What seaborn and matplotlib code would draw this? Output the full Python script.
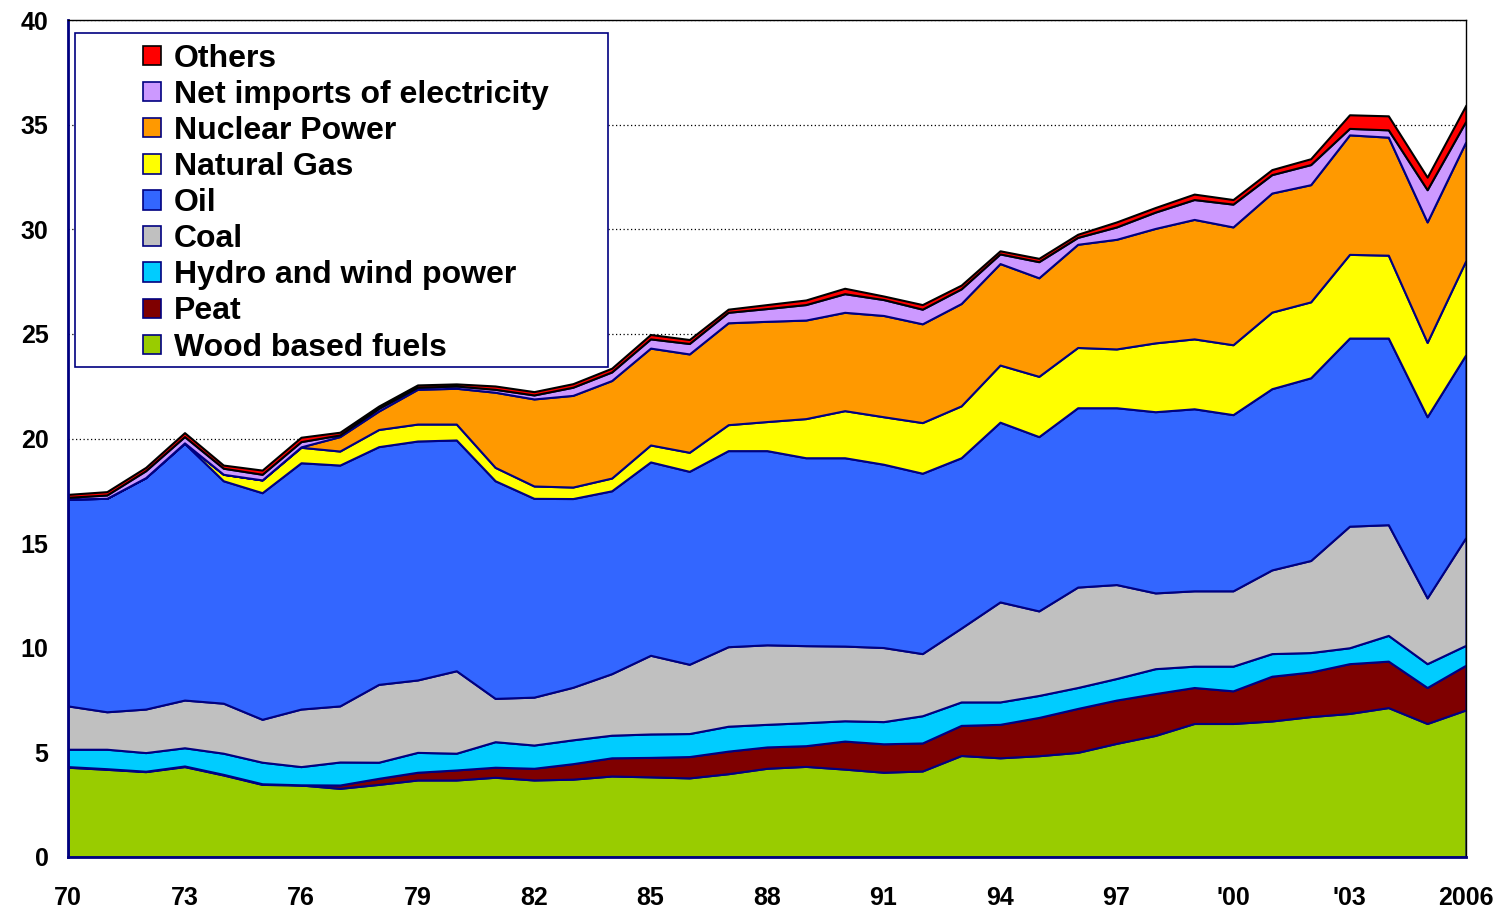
import numpy as np
import matplotlib
matplotlib.use("Agg")
import matplotlib.pyplot as plt
from matplotlib.patches import Patch, Rectangle
import seaborn as sns

years = list(range(1970, 2007))

wood = [4.29, 4.19, 4.08, 4.32, 3.92, 3.47, 3.44, 3.28, 3.47, 3.68, 3.68, 3.81, 3.68,
        3.72, 3.87, 3.83, 3.78, 3.98, 4.24, 4.33, 4.20, 4.05, 4.11, 4.85, 4.74, 4.84,
        5.00, 5.43, 5.81, 6.38, 6.38, 6.50, 6.71, 6.86, 7.14, 6.38, 7.03]
peat = [0.03, 0.03, 0.02, 0.03, 0.03, 0.03, 0.01, 0.16, 0.29, 0.37, 0.48, 0.48, 0.56,
        0.74, 0.87, 0.93, 1.02, 1.08, 1.02, 0.99, 1.34, 1.36, 1.34, 1.44, 1.60, 1.83,
        2.10, 2.07, 2.00, 1.72, 1.56, 2.14, 2.13, 2.38, 2.22, 1.72, 2.14]
hydro = [0.83, 0.93, 0.89, 0.87, 1.01, 1.03, 0.87, 1.10, 0.77, 0.95, 0.80, 1.22, 1.11,
         1.14, 1.08, 1.12, 1.10, 1.19, 1.08, 1.10, 0.97, 1.06, 1.30, 1.12, 1.07, 1.05,
         1.00, 1.03, 1.19, 1.02, 1.18, 1.08, 0.93, 0.76, 1.23, 1.14, 0.95]
coal = [2.07, 1.79, 2.08, 2.28, 2.39, 2.05, 2.75, 2.68, 3.72, 3.46, 3.94, 2.07, 2.29,
        2.51, 2.94, 3.76, 3.31, 3.80, 3.80, 3.68, 3.57, 3.54, 2.97, 3.53, 4.78, 4.04,
        4.80, 4.49, 3.62, 3.60, 3.60, 4.00, 4.40, 5.81, 5.29, 3.14, 5.16]
oil = [9.89, 10.20, 11.06, 12.27, 10.63, 10.83, 11.77, 11.51, 11.36, 11.42, 11.03, 10.40, 9.50,
       9.02, 8.74, 9.24, 9.22, 9.37, 9.28, 8.98, 9.00, 8.76, 8.62, 8.14, 8.59, 8.33,
       8.57, 8.45, 8.66, 8.70, 8.42, 8.66, 8.73, 8.99, 8.92, 8.66, 8.74]
gas = [0.00, 0.00, 0.00, 0.02, 0.31, 0.61, 0.74, 0.67, 0.82, 0.81, 0.76, 0.64, 0.59,
       0.55, 0.61, 0.81, 0.91, 1.24, 1.39, 1.87, 2.25, 2.27, 2.42, 2.48, 2.73, 2.88,
       2.88, 2.81, 3.29, 3.34, 3.34, 3.66, 3.63, 4.00, 3.96, 3.55, 4.50]
nuclear = [0.00, 0.00, 0.00, 0.00, 0.00, 0.00, 0.02, 0.69, 0.88, 1.66, 1.71, 3.59, 4.16,
           4.38, 4.66, 4.63, 4.70, 4.87, 4.79, 4.71, 4.70, 4.84, 4.72, 4.89, 4.85, 4.71,
           4.93, 5.24, 5.47, 5.71, 5.63, 5.69, 5.60, 5.71, 5.64, 5.76, 5.68]
imports = [0.08, 0.16, 0.33, 0.30, 0.29, 0.27, 0.25, 0.08, 0.13, 0.10, 0.11, 0.14, 0.19,
           0.39, 0.41, 0.44, 0.50, 0.50, 0.61, 0.74, 0.89, 0.76, 0.70, 0.70, 0.46, 0.77,
           0.33, 0.59, 0.78, 0.95, 1.09, 0.88, 0.96, 0.31, 0.35, 1.54, 0.98]
others = [0.14, 0.16, 0.16, 0.19, 0.15, 0.20, 0.21, 0.13, 0.11, 0.11, 0.10, 0.16, 0.16,
          0.17, 0.18, 0.21, 0.19, 0.15, 0.19, 0.22, 0.26, 0.17, 0.22, 0.18, 0.15, 0.16,
          0.15, 0.24, 0.22, 0.26, 0.22, 0.24, 0.28, 0.65, 0.67, 0.60, 0.76]

series_names = ["Wood based fuels", "Peat", "Hydro and wind power", "Coal", "Oil",
                "Natural Gas", "Nuclear Power", "Net imports of electricity", "Others"]
series_values = [wood, peat, hydro, coal, oil, gas, nuclear, imports, others]
series_colors = ["#99CC00", "#7F0000", "#00CCFF", "#C0C0C0", "#3366FF",
                 "#FFFF00", "#FF9900", "#CC99FF", "#FF0000"]

tick_label_years = [1970, 1973, 1976, 1979, 1982, 1985, 1988, 1991, 1994, 1997, 2000, 2003, 2006]
tick_labels = ["70", "73", "76", "79", "82", "85", "88", "91", "94", "97", "'00", "'03", "2006"]

sns.set_style("white")
plt.rcParams["font.family"] = ["Liberation Sans", "DejaVu Sans"]
plt.rcParams["font.weight"] = "bold"
plt.rcParams["text.color"] = "black"

navy = "#000080"
fig = plt.figure(figsize=(15.06, 9.10), dpi=100)
ax = fig.add_axes([68 / 1506, 1 - 857 / 910, (1466 - 68) / 1506, (857 - 20) / 910])

palette = sns.color_palette(series_colors)
polys = ax.stackplot(years, *series_values, colors=palette,
                     edgecolor=navy, linewidth=1.5, zorder=2)
polys[-1].set_edgecolor("black")
polys[-1].set_linewidth(1.5)

ax.set_xlim(1970, 2006)
ax.set_ylim(0, 40)

# gridlines
ax.set_yticks(np.arange(0, 41, 5))
ax.yaxis.grid(True, linestyle=(0, (1, 2)), color="black", linewidth=0.9, zorder=0)
ax.set_axisbelow(True)
ax.tick_params(axis="y", length=0, pad=14, labelsize=18, labelcolor="black")
ax.set_yticklabels([str(v) for v in range(0, 41, 5)], fontweight="bold")

ax.set_xticks(years)
labels = [tick_labels[tick_label_years.index(y)] if y in tick_label_years else "" for y in years]
ax.set_xticklabels(labels, fontweight="bold")
ax.tick_params(axis="x", direction="in", length=8, width=1.5, color=navy, pad=21,
               labelsize=18, labelcolor="black")

for side in ["left", "bottom"]:
    ax.spines[side].set_color(navy)
    ax.spines[side].set_linewidth(2)
for side in ["top", "right"]:
    ax.spines[side].set_color("black")
    ax.spines[side].set_linewidth(1)
    ax.spines[side].set_visible(True)

# legend (reversed order)
handles = []
for name, col in zip(series_names, series_colors):
    ec = "black" if name == "Others" else navy
    handles.append(Patch(facecolor=col, edgecolor=ec, linewidth=1.2, label=name))
handles = handles[::-1]
leg = ax.legend(handles=handles, loc="upper left",
                bbox_to_anchor=((143 - 68) / 1398, (857 - 44) / 837),
                frameon=False, handlelength=0.55, handleheight=0.55,
                handletextpad=0.42, labelspacing=0.19, borderpad=0, borderaxespad=0,
                prop={"weight": "bold", "size": 23})
for t in leg.get_texts():
    t.set_color("black")
leg.set_zorder(5)
ax.add_patch(Rectangle(((75 - 68) / 1398, (857 - 367) / 837),
                       (608 - 75) / 1398, (367 - 33) / 837,
                       transform=ax.transAxes, facecolor="white", edgecolor=navy,
                       linewidth=1.2, zorder=4))

fig.savefig("out.png", dpi=100)
